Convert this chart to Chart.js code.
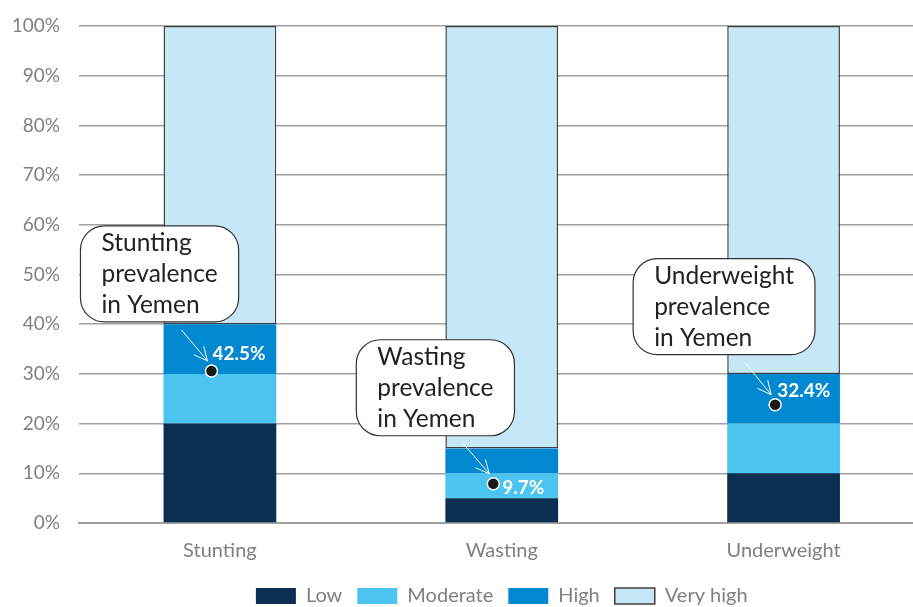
<!DOCTYPE html>
<html>
<head>
<meta charset="utf-8">
<script src="https://cdn.jsdelivr.net/npm/chart.js@4"></script>
<style>
  html, body { margin: 0; padding: 0; overflow: hidden; background: #fff; }
  #wrap { width: 932px; height: 616px; }
</style>
</head>
<body>
<div id="wrap"><canvas id="chart"></canvas></div>
<script>
// données
const categories = ['Stunting', 'Wasting', 'Underweight'];
const lowValues = [20, 5, 10];
const moderateValues = [10, 5, 10];
const highValues = [10, 5, 10];
const veryHighValues = [60, 85, 70];
const yTicks = [0, 10, 20, 30, 40, 50, 60, 70, 80, 90, 100];

// points "prévalence au Yémen"
const dotValues = [30.6, 7.9, 23.8];
const dotLabels = ['42.5%', '9.7%', '32.4%'];
const calloutText = [
    ['Stunting', 'prevalence', 'in Yemen'],
    ['Wasting', 'prevalence', 'in Yemen'],
    ['Underweight', 'prevalence', 'in Yemen']
];

// mise en page des bulles (décalages en pixels par rapport au point)
const calloutLayout = [
    { boxLeft: -131, boxTop: -145, labelDx: 1, labelDy: -17 },
    { boxLeft: -137, boxTop: -144, labelDx: 9, labelDy: 4 },
    { boxLeft: -142, boxTop: -146, labelDx: 2, labelDy: -14 }
];

const FONT = 'Lato, "Open Sans", sans-serif';
const GREY = '#808080';

const calloutPlugin = {
    id: 'callouts',
    afterDatasetsDraw(chart) {
        const ctx = chart.ctx;
        const meta = chart.getDatasetMeta(4);
        meta.data.forEach(function(pt, i) {
            const x = pt.x, y = pt.y;
            const lay = calloutLayout[i];
            const lines = calloutText[i];

            ctx.save();
            ctx.font = '24.5px ' + FONT;
            let w = 0;
            lines.forEach(function(l) { w = Math.max(w, ctx.measureText(l).width); });
            const bx = x + lay.boxLeft, by = y + lay.boxTop;
            const bw = w + 42, bh = 96;

            // bulle
            ctx.beginPath();
            ctx.roundRect(bx, by, bw, bh, 24);
            ctx.fillStyle = '#ffffff';
            ctx.fill();
            ctx.lineWidth = 1.2;
            ctx.strokeStyle = '#333333';
            ctx.stroke();

            ctx.fillStyle = '#222222';
            ctx.textAlign = 'left';
            ctx.textBaseline = 'middle';
            lines.forEach(function(l, k) {
                ctx.fillText(l, bx + 21, by + 17 + k * 31);
            });

            // flèche blanche
            const sx = x - 30, sy = by + bh + 8;
            const tx = x - 4, ty = y - 10;
            ctx.strokeStyle = '#ffffff';
            ctx.lineWidth = 1;
            ctx.beginPath();
            ctx.moveTo(sx, sy);
            ctx.lineTo(tx, ty);
            const ang = Math.atan2(ty - sy, tx - sx);
            [0.45, -0.45].forEach(function(a) {
                ctx.moveTo(tx, ty);
                ctx.lineTo(tx - 15 * Math.cos(ang + a), ty - 15 * Math.sin(ang + a));
            });
            ctx.stroke();

            // valeur
            ctx.font = 'bold 19px ' + FONT;
            ctx.fillStyle = '#ffffff';
            ctx.fillText(dotLabels[i], x + lay.labelDx, y + lay.labelDy);
            ctx.restore();
        });
    }
};

new Chart(document.getElementById('chart').getContext('2d'), {
    type: 'bar',
    data: {
        labels: categories,
        datasets: [
            { label: 'Low', data: lowValues, backgroundColor: '#0a2f50', borderWidth: 0 },
            { label: 'Moderate', data: moderateValues, backgroundColor: '#4cc4f0', borderWidth: 0 },
            { label: 'High', data: highValues, backgroundColor: '#0088d1', borderWidth: 0 },
            { label: 'Very high', data: veryHighValues, backgroundColor: '#c6e7f7',
              borderColor: '#404040', borderWidth: 1.5, borderSkipped: false },
            {
                type: 'scatter',
                label: 'dots',
                data: dotValues.map(function(v, i) { return { x: i, y: v }; }),
                xAxisID: 'x2',
                order: -1,
                pointRadius: 6,
                pointBackgroundColor: '#1a1a1a',
                pointBorderColor: '#ffffff',
                pointBorderWidth: 1.5,
                showLine: false
            }
        ]
    },
    options: {
        responsive: true,
        maintainAspectRatio: false,
        animation: false,
        datasets: { bar: { categoryPercentage: 1, barPercentage: 0.4, grouped: false } },
        layout: { padding: { top: 26, bottom: 0 } },
        scales: {
            x: {
                stacked: true,
                grid: { display: false },
                border: { color: '#a0a0a0', width: 2 },
                ticks: { color: GREY, font: { family: FONT, size: 20 }, padding: 8 }
            },
            x2: {
                type: 'linear',
                display: false,
                offset: false,
                bounds: 'data',
                min: -0.47,
                max: 2.53
            },
            y: {
                stacked: true,
                min: 0,
                max: 100,
                afterBuildTicks: function(axis) {
                    axis.ticks = yTicks.map(function(v) { return { value: v }; });
                },
                afterFit: function(axis) {
                    axis.width = 79;
                    axis.paddingTop = 0;
                },
                border: { display: false },
                grid: { color: '#a0a0a0', lineWidth: 1.5, drawTicks: false },
                ticks: {
                    color: GREY,
                    padding: 19,
                    font: { family: FONT, size: 19 },
                    callback: function(v) { return v + '%'; }
                }
            }
        },
        plugins: {
            legend: {
                position: 'bottom',
                fullSize: false,
                labels: {
                    filter: function(item) { return item.datasetIndex < 4; },
                    color: GREY,
                    font: { family: FONT, size: 20 },
                    boxWidth: 40,
                    boxHeight: 16,
                    padding: 15
                }
            },
            tooltip: { enabled: false }
        }
    },
    plugins: [calloutPlugin]
});
</script>
</body>
</html>
